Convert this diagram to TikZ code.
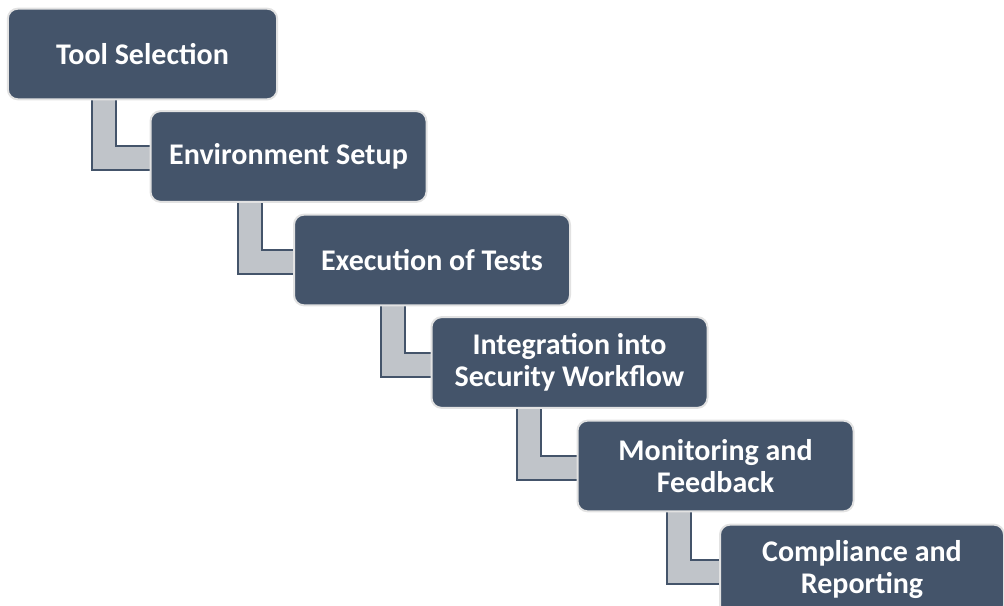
\documentclass[tikz,border=0pt]{standalone}
\usepackage{fontspec}
\setmainfont{Carlito}
\usetikzlibrary{calc,backgrounds}
\definecolor{slate}{HTML}{44546A}
\definecolor{rim}{HTML}{E2E2E2}
\definecolor{barfill}{HTML}{C0C4C9}
\begin{document}
\begin{tikzpicture}[x=0.75pt,y=-0.75pt]

      \clip (0,0) rectangle (1004,606);

      \begin{scope}[every node/.style={rectangle,rounded corners=7.5pt,draw=rim,line width=1.5pt,
          fill=slate,text=white,font=\bfseries\fontsize{22.5}{24}\selectfont,align=center,
          minimum width=207pt,minimum height=68pt,inner sep=0pt}]
        \node[minimum width=202pt] (tool) at (142.5,54) {Tool Selection};
        \node (env)     at (288.5,156.5) {Environment Setup};
        \node (exec)    at (432,260)   {Execution of Tests};
        \node (integ)   at (569.5,362.5) {Integration into\\Security Workflow};
        \node (monitor) at (715.5,466) {Monitoring and\\Feedback};
        \node[minimum width=213pt] (comply) at (862,570) {Compliance and\\Reporting};
      \end{scope}

      \begin{scope}[on background layer]
        \begin{scope}[every edge/.style={draw=slate,line width=1.5pt,double=barfill,
            double distance=16.5pt,to path={|- (\tikztotarget)}}]
          \path ($(tool.south west)+(97,-5)$)     edge ($(env.west)+(5,2)$);
          \path ($(env.south west)+(100,-5)$)     edge ($(exec.west)+(5,2)$);
          \path ($(exec.south west)+(100,-5)$)    edge ($(integ.west)+(5,2)$);
          \path ($(integ.south west)+(98,-5)$)    edge ($(monitor.west)+(5,2)$);
          \path ($(monitor.south west)+(102,-5)$) edge ($(comply.west)+(5,2)$);
        \end{scope}
      \end{scope}

\end{tikzpicture}
\end{document}
